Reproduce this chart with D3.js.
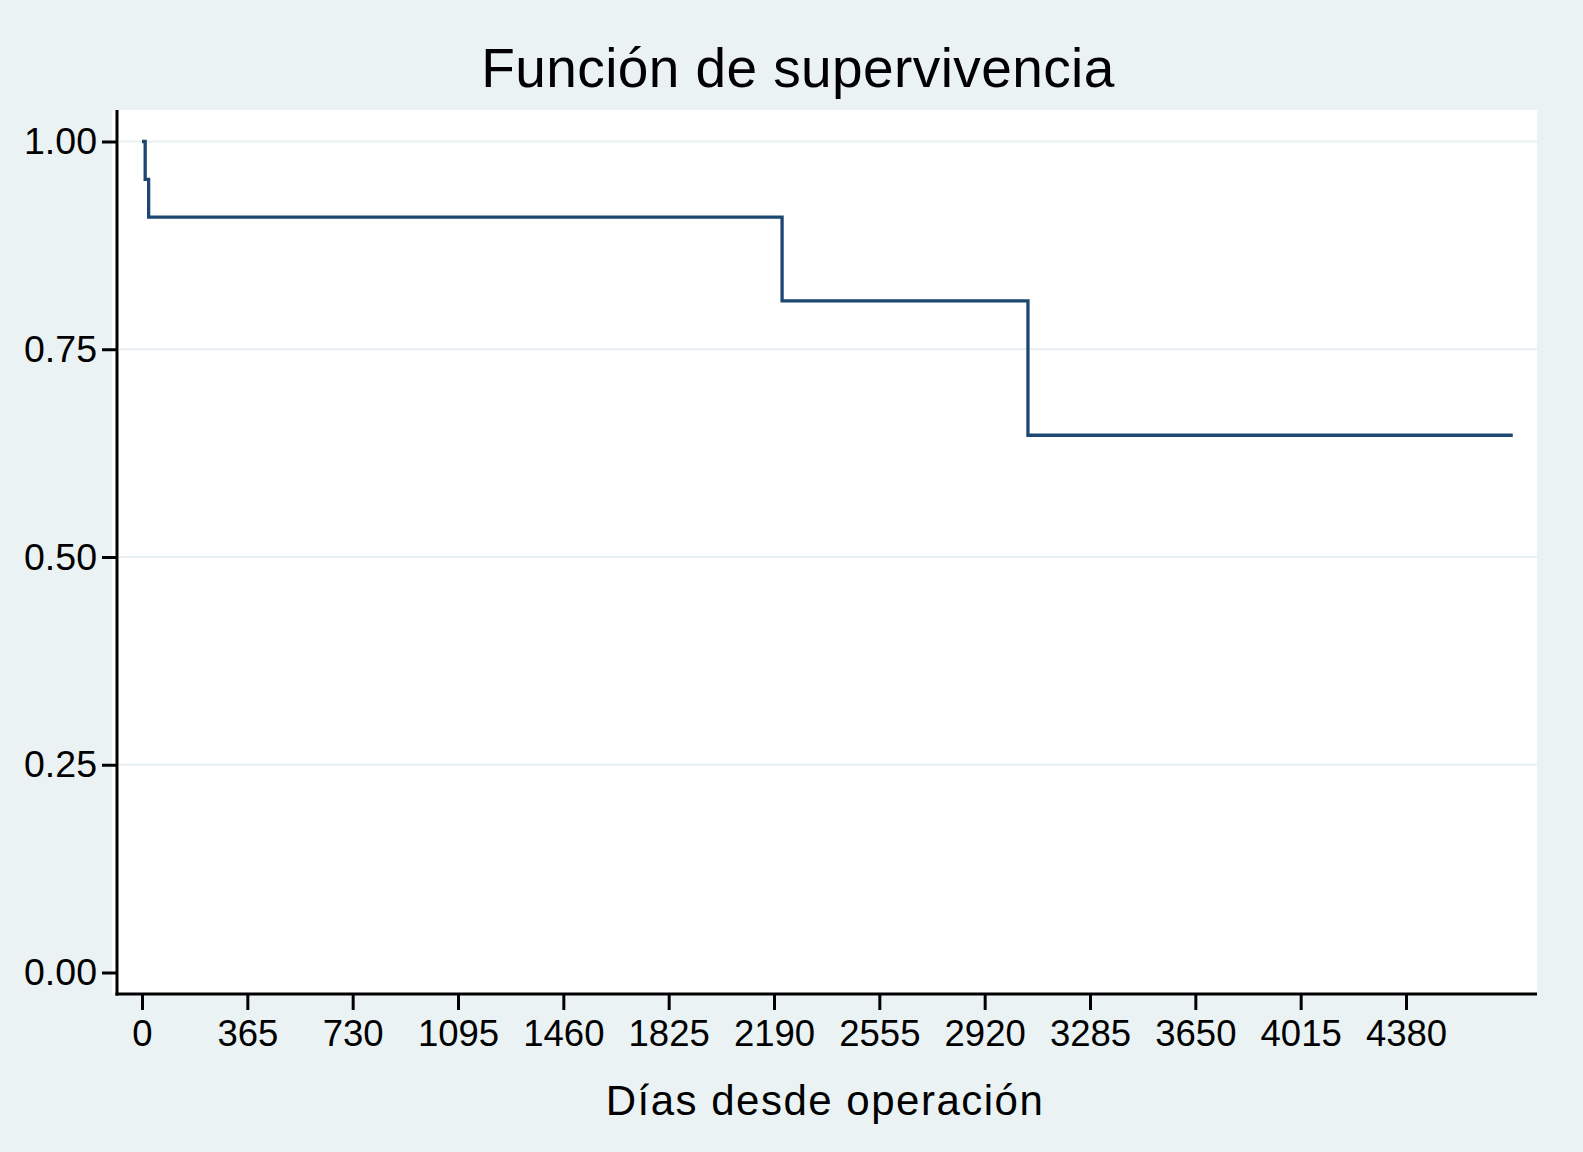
<!DOCTYPE html>
<html>
<head>
<meta charset="utf-8">
<script src="https://cdn.jsdelivr.net/npm/d3@7"></script>
<style>
  html, body { margin: 0; padding: 0; background: #eaf2f3; }
  svg { display: block; }
  text { font-family: "Liberation Sans", Arial, Helvetica, sans-serif; fill: #000; }
</style>
</head>
<body>
<svg id="chart" width="1583" height="1152"></svg>
<script>
// Kaplan-Meier survival estimate
const times    = [0, 11, 23, 2218, 3070];
const survival = [1.0, 0.9545, 0.9091, 0.8081, 0.6465];
const endTime  = 4750;

const xTicks = [0, 365, 730, 1095, 1460, 1825, 2190, 2555, 2920, 3285, 3650, 4015, 4380];
const yTicks = [0, 0.25, 0.5, 0.75, 1.0];

const titleText = "Función de supervivencia";
const xLabel = "Días desde operación";

const W = 1583, H = 1152;
const svg = d3.select("#chart");

const plot = { left: 117, right: 1537, top: 110, bottom: 994 };

const x = d3.scaleLinear().domain([0, 4380]).range([142, 1406]);
const y = d3.scaleLinear().domain([0, 1]).range([972.5, 141.5]);

// background
svg.append("rect").attr("width", W).attr("height", H).attr("fill", "#eaf2f3");
// plot region
svg.append("rect")
  .attr("x", plot.left - 5).attr("y", plot.top)
  .attr("width", plot.right - plot.left + 5).attr("height", plot.bottom - plot.top)
  .attr("fill", "#ffffff");

// gridlines
svg.append("g").selectAll("line")
  .data(yTicks.filter(d => d > 0))
  .join("line")
  .attr("x1", plot.left + 2).attr("x2", plot.right)
  .attr("y1", d => y(d)).attr("y2", d => y(d))
  .attr("stroke", "#e6eff1").attr("stroke-width", 2);

// curve (step function)
const pts = [];
times.forEach((t, i) => {
  if (i > 0) pts.push([t, survival[i - 1]]);
  pts.push([t, survival[i]]);
});
pts.push([endTime, survival[survival.length - 1]]);

svg.append("path")
  .datum(pts)
  .attr("fill", "none")
  .attr("stroke", "#1d4670")
  .attr("stroke-width", 3.3)
  .attr("stroke-linejoin", "miter")
  .attr("d", d3.line().x(d => x(d[0])).y(d => y(d[1])));

// Y axis
const yAxis = d3.axisLeft(y).tickValues(yTicks).tickFormat(d3.format(".2f"))
  .tickSize(15).tickPadding(5);
const gy = svg.append("g").attr("transform", `translate(${plot.left},0)`).call(yAxis);
gy.select(".domain").remove();
gy.selectAll(".tick line").attr("stroke", "#000").attr("stroke-width", 3);
gy.selectAll(".tick text").attr("font-size", 37.5).attr("font-family", "Liberation Sans, Arial, sans-serif").attr("fill", "#000");

// X axis
const xAxis = d3.axisBottom(x).tickValues(xTicks).tickFormat(d3.format("d"))
  .tickSize(16).tickPadding(10);
const gx = svg.append("g").attr("transform", `translate(0,${plot.bottom})`).call(xAxis);
gx.select(".domain").remove();
gx.selectAll(".tick line").attr("stroke", "#000").attr("stroke-width", 3);
gx.selectAll(".tick text").attr("font-size", 36.5).attr("font-family", "Liberation Sans, Arial, sans-serif").attr("fill", "#000");

// axis lines
svg.append("line").attr("x1", plot.left).attr("x2", plot.left)
  .attr("y1", plot.top).attr("y2", plot.bottom + 1.5)
  .attr("stroke", "#000").attr("stroke-width", 3);
svg.append("line").attr("x1", plot.left - 1.5).attr("x2", plot.right)
  .attr("y1", plot.bottom).attr("y2", plot.bottom)
  .attr("stroke", "#000").attr("stroke-width", 3);

// title
svg.append("text")
  .attr("x", 798).attr("y", 87)
  .attr("text-anchor", "middle")
  .attr("font-size", 55)
  .attr("letter-spacing", 0.4)
  .text(titleText);

// x label
svg.append("text")
  .attr("x", 825).attr("y", 1115)
  .attr("text-anchor", "middle")
  .attr("font-size", 42)
  .attr("letter-spacing", 1.5)
  .text(xLabel);
</script>
</body>
</html>
